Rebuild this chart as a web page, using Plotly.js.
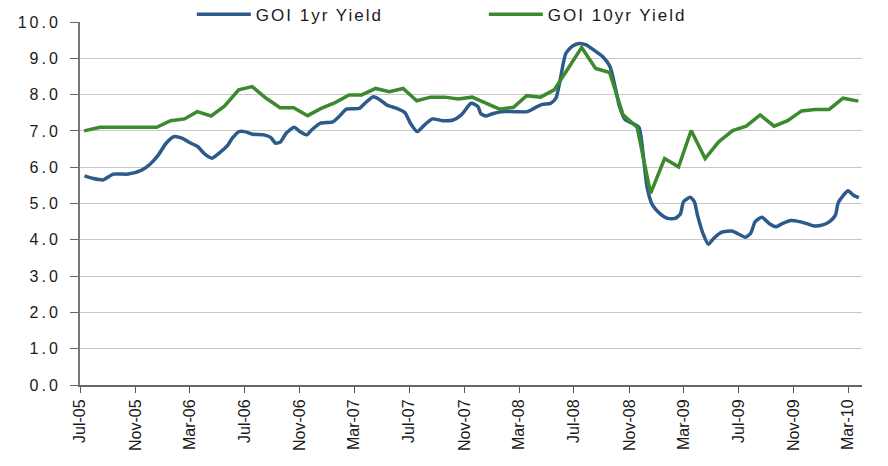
<!DOCTYPE html>
<html><head><meta charset="utf-8">
<script src="https://cdn.plot.ly/plotly-3.0.1.min.js"></script>
<style>
html,body{margin:0;padding:0;background:#fff;}
#chart{width:888px;height:466px;}
.ytick text{letter-spacing:3px;}
.legendtext{letter-spacing:2px;}
</style></head><body><div id="chart"></div>
<script>
// GOI 1yr Yield (%)
const oneYrDates = [
 '2005-07-11','2005-07-30','2005-08-21','2005-09-13','2005-10-16','2005-11-15','2005-12-04','2005-12-22',
 '2006-01-08','2006-01-25','2006-02-12','2006-03-01','2006-03-19','2006-04-04','2006-04-20','2006-05-07',
 '2006-05-25','2006-06-04','2006-06-19','2006-07-01','2006-07-19','2006-08-13','2006-08-28','2006-09-08',
 '2006-09-19','2006-10-01','2006-10-19','2006-11-01','2006-11-16','2006-11-28','2006-12-16','2007-01-13',
 '2007-01-28','2007-02-12','2007-03-13','2007-03-25','2007-04-13','2007-04-28','2007-05-13','2007-06-04',
 '2007-06-22','2007-07-04','2007-07-19','2007-08-04','2007-08-22','2007-09-13','2007-10-07','2007-10-25',
 '2007-11-16','2007-12-01','2007-12-07','2007-12-19','2008-01-04','2008-01-22','2008-02-20','2008-03-19',
 '2008-04-07','2008-04-22','2008-05-10','2008-05-22','2008-06-01','2008-06-13','2008-06-28','2008-07-13',
 '2008-07-28','2008-08-16','2008-09-04','2008-09-19','2008-10-01','2008-10-10','2008-10-22','2008-11-07',
 '2008-11-22','2008-12-01','2008-12-10','2008-12-22','2009-01-07','2009-01-25','2009-02-10','2009-02-22',
 '2009-03-01','2009-03-16','2009-03-25','2009-04-01','2009-04-13','2009-04-25','2009-05-07','2009-05-25',
 '2009-06-16','2009-07-01','2009-07-16','2009-07-28','2009-08-07','2009-08-22','2009-09-07','2009-09-22',
 '2009-10-07','2009-10-25','2009-11-13','2009-12-01','2009-12-16','2010-01-04','2010-01-19','2010-02-01',
 '2010-02-07','2010-02-19','2010-03-01','2010-03-13','2010-03-25'
];
const oneYrValues = [
 5.76,5.69,5.65,5.81,5.81,5.92,6.09,6.34,
 6.66,6.84,6.80,6.68,6.57,6.36,6.25,6.40,
 6.61,6.80,6.98,6.98,6.91,6.89,6.82,6.66,
 6.70,6.93,7.10,6.98,6.89,7.04,7.21,7.25,
 7.41,7.60,7.62,7.76,7.94,7.85,7.71,7.62,
 7.50,7.21,6.98,7.16,7.33,7.28,7.30,7.44,
 7.76,7.67,7.48,7.41,7.48,7.53,7.53,7.53,
 7.65,7.73,7.76,7.90,8.45,9.14,9.34,9.41,
 9.37,9.21,9.03,8.77,8.17,7.67,7.32,7.21,
 7.10,6.40,5.46,4.96,4.73,4.59,4.59,4.71,
 5.05,5.17,5.05,4.68,4.18,3.88,4.04,4.21,
 4.24,4.16,4.07,4.18,4.50,4.62,4.45,4.36,
 4.45,4.53,4.50,4.44,4.38,4.41,4.50,4.68,
 5.01,5.23,5.35,5.23,5.16
];
// GOI 10yr Yield (%)
const tenYrDates = [
 '2005-07-10','2005-08-14','2005-09-18','2005-10-18','2005-11-18','2005-12-18',
 '2006-01-18','2006-02-18','2006-03-18','2006-04-18','2006-05-18','2006-06-18',
 '2006-07-18','2006-08-18','2006-09-18','2006-10-18','2006-11-18','2006-12-18',
 '2007-01-18','2007-02-18','2007-03-18','2007-04-18','2007-05-18','2007-06-18',
 '2007-07-18','2007-08-18','2007-09-18','2007-10-18','2007-11-18','2007-12-18',
 '2008-01-18','2008-02-18','2008-03-18','2008-04-18','2008-05-18','2008-06-18',
 '2008-07-18','2008-08-18','2008-09-18','2008-10-18','2008-11-18','2008-12-18',
 '2009-01-18','2009-02-18','2009-03-18','2009-04-18','2009-05-18','2009-06-18',
 '2009-07-18','2009-08-18','2009-09-18','2009-10-18','2009-11-18','2009-12-18',
 '2010-01-18','2010-02-18','2010-03-24'
];
const tenYrValues = [
 7.00,7.10,7.10,7.10,7.10,7.10,
 7.28,7.33,7.53,7.41,7.69,8.13,
 8.22,7.90,7.64,7.64,7.42,7.62,
 7.78,7.99,7.99,8.17,8.08,8.17,
 7.83,7.93,7.93,7.88,7.93,7.76,
 7.60,7.65,7.97,7.93,8.13,8.72,
 9.30,8.72,8.61,7.44,7.10,5.28,
 6.24,6.01,7.01,6.24,6.70,7.01,
 7.13,7.44,7.13,7.28,7.55,7.59,
 7.59,7.90,7.82
];
const tickDates = ['2005-07-01','2005-11-01','2006-03-01','2006-07-01','2006-11-01','2007-03-01','2007-07-01',
 '2007-11-01','2008-03-01','2008-07-01','2008-11-01','2009-03-01','2009-07-01','2009-11-01','2010-03-01'];
const tickLabels = ['Jul-05','Nov-05','Mar-06','Jul-06','Nov-06','Mar-07','Jul-07',
 'Nov-07','Mar-08','Jul-08','Nov-08','Mar-09','Jul-09','Nov-09','Mar-10'];
const seriesNames = ['GOI 1yr Yield','GOI 10yr Yield'];

const traces = [
 {x: oneYrDates, y: oneYrValues, name: seriesNames[0], type: 'scatter', mode: 'lines',
  line: {color: '#2b5a8b', width: 3.5, shape: 'spline', smoothing: 0.6}, hoverinfo: 'skip'},
 {x: tenYrDates, y: tenYrValues, name: seriesNames[1], type: 'scatter', mode: 'lines',
  line: {color: '#3b8a2e', width: 3.5}, hoverinfo: 'skip'}
];
const font = 'Liberation Sans, Arial, sans-serif';
const layout = {
 width: 888, height: 466,
 margin: {l: 80, r: 26, t: 22, b: 81, autoexpand: false},
 paper_bgcolor: '#fff', plot_bgcolor: '#fff',
 showlegend: true,
 legend: {orientation: 'h', x: 0.143, xanchor: 'left', y: 1.02, yanchor: 'middle',
  bgcolor: 'rgba(0,0,0,0)', itemwidth: 54, entrywidth: 223, font: {family: font, size: 17, color: '#1a1a1a'},
  traceorder: 'normal'},
 shapes: [{type: 'line', xref: 'paper', yref: 'paper', x0: 0.074, x1: 0.866, y0: 1, y1: 1,
  line: {color: '#fff', width: 3}, layer: 'above'}],
 xaxis: {type: 'date', range: ['2005-07-01', '2010-04-01'], tickmode: 'array',
  tickvals: tickDates, ticktext: tickLabels, tickangle: -90,
  tickfont: {family: font, size: 16, color: '#1a1a1a'},
  ticks: 'outside', ticklen: 6, tickcolor: '#555', tickwidth: 1,
  showgrid: false, zeroline: false, showline: true, linecolor: '#666', linewidth: 2,
  fixedrange: true},
 yaxis: {range: [0, 10], dtick: 1, tick0: 0, tickformat: '.1f',
  tickfont: {family: font, size: 16, color: '#1a1a1a'}, ticklabelstandoff: 6,
  ticks: 'outside', ticklen: 8, tickcolor: '#666', tickwidth: 1,
  showgrid: true, gridcolor: '#c8c8c8', gridwidth: 1,
  zeroline: false, showline: true, linecolor: '#777', linewidth: 2,
  fixedrange: true}
};
Plotly.newPlot('chart', traces, layout, {staticPlot: true, displayModeBar: false});
</script></body></html>
